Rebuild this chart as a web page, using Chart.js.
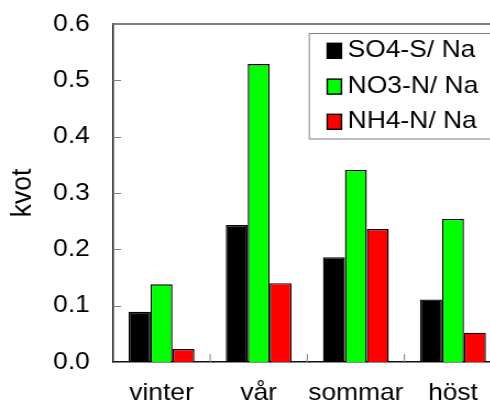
<!DOCTYPE html>
<html><head><meta charset="utf-8">
<script src="https://cdn.jsdelivr.net/npm/chart.js@4"></script>
<style>
html,body{margin:0;padding:0;background:#fff;overflow:hidden;width:490px;height:404px;}
#wrap{position:absolute;left:0;top:0;width:456px;height:404px;transform:scaleX(1.1);transform-origin:0 0;}
canvas{display:block;}
</style></head><body>
<div id="wrap"><canvas id="c" width="456" height="404"></canvas></div>
<script>
const categories = ['vinter', 'vår', 'sommar', 'höst'];
const so4Values = [0.089, 0.243, 0.186, 0.111];
const no3Values = [0.138, 0.529, 0.341, 0.254];
const nh4Values = [0.023, 0.140, 0.236, 0.052];
const seriesLabels = ['SO4-S/ Na', 'NO3-N/ Na', 'NH4-N/ Na'];
const seriesColors = ['#000000', '#00ff00', '#ff0000'];
const yTickLabels = ['0.0', '0.1', '0.2', '0.3', '0.4', '0.5', '0.6'];
const yAxisTitle = 'kvot';

const FONT = '"Liberation Sans", Arial, sans-serif';

const framePlugin = {
  id: 'frame',
  afterDatasetsDraw(chart) {
    const {ctx, chartArea: {left, right, top, bottom}, scales: {x, y}} = chart;
    ctx.save();
    // top frame line
    ctx.strokeStyle = '#808080';
    ctx.lineWidth = 2;
    ctx.beginPath(); ctx.moveTo(left, top); ctx.lineTo(right, top); ctx.stroke();
    // inward y ticks
    ctx.lineWidth = 1;
    ctx.strokeStyle = '#808080';
    y.ticks.forEach(t => {
      const py = Math.round(y.getPixelForValue(t.value)) + 0.5;
      ctx.beginPath(); ctx.moveTo(left, py); ctx.lineTo(left + 7.3, py); ctx.stroke();
    });
    // x ticks between categories
    for (let i = 1; i < categories.length; i++) {
      const px = (x.getPixelForValue(i - 1) + x.getPixelForValue(i)) / 2;
      ctx.beginPath(); ctx.moveTo(px, bottom); ctx.lineTo(px, bottom - 8); ctx.stroke();
    }
    // legend
    const bx = 281.2, by = 33.5, bw = 200, bh = 105.5;
    ctx.strokeStyle = '#808080';
    ctx.lineWidth = 1;
    ctx.strokeRect(bx, by, bw, bh);
    const rowCenters = [50.8, 86.6, 121.8];
    chart.data.datasets.forEach((ds, i) => {
      const cy = rowCenters[i];
      ctx.fillStyle = ds.backgroundColor;
      ctx.fillRect(297.5, cy - 7.5, 12.9, 15);
      ctx.strokeStyle = '#000';
      ctx.lineWidth = 1.4;
      ctx.strokeRect(297.5, cy - 7.5, 12.9, 15);
      ctx.fillStyle = '#000';
      ctx.font = '24px ' + FONT;
      ctx.textBaseline = 'middle';
      ctx.textAlign = 'left';
      ctx.fillText(ds.label, 316.1, cy);
    });
    ctx.restore();
  }
};

new Chart(document.getElementById('c'), {
  type: 'bar',
  data: {
    labels: categories,
    datasets: [
      {label: seriesLabels[0], data: so4Values, backgroundColor: seriesColors[0]},
      {label: seriesLabels[1], data: no3Values, backgroundColor: seriesColors[1]},
      {label: seriesLabels[2], data: nh4Values, backgroundColor: seriesColors[2]}
    ].map(d => Object.assign(d, {borderColor: '#000', borderWidth: 1.4, categoryPercentage: 0.677, barPercentage: 1.0}))
  },
  options: {
    responsive: false,
    animation: false,
    events: [],
    layout: {padding: {top: 24, left: 0, right: 0, bottom: 0}},
    plugins: {legend: {display: false}, tooltip: {enabled: false}},
    scales: {
      x: {
        grid: {display: false, drawTicks: false},
        border: {display: true, color: '#111', width: 1.5},
        ticks: {color: '#000', font: {family: FONT, size: 24}, padding: 17, maxRotation: 0, autoSkip: false},
        afterFit(s) { s.height = 42; s.paddingLeft = 0; s.paddingRight = 0; }
      },
      y: {
        min: 0, max: 0.6,
        grid: {display: false, drawTicks: false},
        border: {display: true, color: '#111', width: 1.4},
        ticks: {stepSize: 0.1, color: '#000', font: {family: FONT, size: 24}, padding: 21,
          callback: (v, i) => yTickLabels[i]},
        title: {display: true, text: yAxisTitle, color: '#000', font: {family: FONT, size: 26.5}, padding: {top: 4.6, bottom: 0}},
        afterFit(s) { s.width = 102.7; s.paddingTop = 0; s.paddingBottom = 0; }
      }
    }
  },
  plugins: [framePlugin]
});
</script>
</body></html>
